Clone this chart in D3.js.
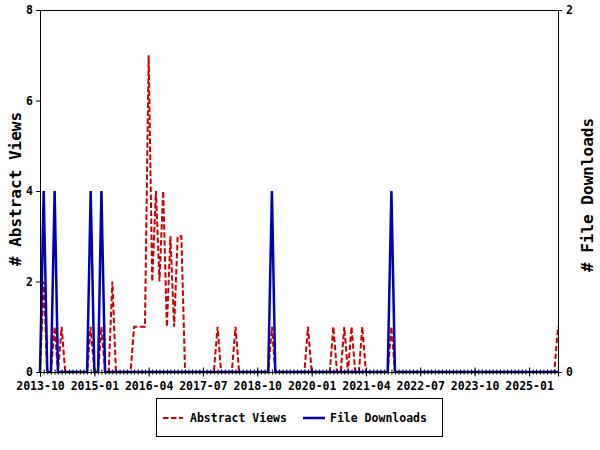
<!DOCTYPE html>
<html><head><meta charset="utf-8">
<script src="https://cdn.jsdelivr.net/npm/d3@7"></script>
<style>body{margin:0;background:#fff}svg{display:block}text{font-family:"DejaVu Sans Mono",monospace;font-weight:bold;fill:#000}</style>
</head><body><svg id="c" width="600" height="450"></svg>
<script>
// Monthly series, 2013-10 .. 2025-09
const startMonth = "2013-10";
const endMonth = "2025-09";
const abstractViews = [
  0,2,0,0,1,0,1,0,0,0,0,0,
  0,0,1,0,0,1,0,0,2,0,0,0,
  0,0,1,1,1,1,7,2,4,2,4,1,
  3,1,3,3,0,0,0,0,0,0,0,0,
  0,1,0,0,0,0,1,0,0,0,0,0,
  0,0,0,0,1,0,0,0,0,0,0,0,
  0,0,1,0,0,0,0,0,0,1,0,0,
  1,0,1,0,0,1,0,0,0,0,0,0,
  0,1,0,0,0,0,0,0,0,0,0,0,
  0,0,0,0,0,0,0,0,0,0,0,0,
  0,0,0,0,0,0,0,0,0,0,0,0,
  0,0,0,0,0,0,0,0,0,0,0,1
];
const fileDownloads = [
  0,1,0,0,1,0,0,0,0,0,0,0,
  0,0,1,0,0,1,0,0,0,0,0,0,
  0,0,0,0,0,0,0,0,0,0,0,0,
  0,0,0,0,0,0,0,0,0,0,0,0,
  0,0,0,0,0,0,0,0,0,0,0,0,
  0,0,0,0,1,0,0,0,0,0,0,0,
  0,0,0,0,0,0,0,0,0,0,0,0,
  0,0,0,0,0,0,0,0,0,0,0,0,
  0,1,0,0,0,0,0,0,0,0,0,0,
  0,0,0,0,0,0,0,0,0,0,0,0,
  0,0,0,0,0,0,0,0,0,0,0,0,
  0,0,0,0,0,0,0,0,0,0,0,0
];
const xTickLabels = ["2013-10","2015-01","2016-04","2017-07","2018-10","2020-01","2021-04","2022-07","2023-10","2025-01"];
const leftTicks = [0,2,4,6,8];
const rightTicks = [0,2];
const seriesNames = ["Abstract Views","File Downloads"];
const axisTitles = ["# Abstract Views","# File Downloads"];

const parse = d3.timeParse("%Y-%m");
const fmt = d3.timeFormat("%Y-%m");
const t0 = parse(startMonth), t1 = parse(endMonth);
const months = d3.timeMonth.range(t0, d3.timeMonth.offset(t1, 1));

const L = 40, R = 558, T = 10, B = 372;
const RED = "#cc0000", BLUE = "#0000b4";
const svg = d3.select("#c");
const x = d3.scaleTime().domain([t0, t1]).range([L, R]);
const yL = d3.scaleLinear().domain([0, 8]).range([B, T]);
const yR = d3.scaleLinear().domain([0, 2]).range([B, T]);

const viewsData = months.map((d, i) => ({date: d, v: abstractViews[i]}));
const dlData = months.map((d, i) => ({date: d, v: fileDownloads[i]}));

// frame
svg.append("rect").attr("x", L).attr("y", T).attr("width", R - L).attr("height", B - T)
  .attr("fill", "none").attr("stroke", "#000").attr("stroke-width", 1).attr("shape-rendering", "crispEdges");

svg.append("path").datum(viewsData)
  .attr("d", d3.line().x(d => x(d.date)).y(d => yL(d.v)))
  .attr("fill", "none").attr("stroke", RED).attr("stroke-width", 2).attr("stroke-dasharray", "5.5,2.5");
svg.append("path").datum(dlData)
  .attr("d", d3.line().x(d => x(d.date)).y(d => yR(d.v)))
  .attr("fill", "none").attr("stroke", BLUE).attr("stroke-width", 2.5);

// x axis: minor monthly ticks + major ticks
const xMinor = svg.append("g").attr("transform", `translate(0,${B})`)
  .call(d3.axisBottom(x).tickValues(months).tickSize(2.5).tickFormat(""));
xMinor.select(".domain").remove();
xMinor.selectAll(".tick line").attr("y1", -2.5).attr("stroke", "#000");
const xMajor = svg.append("g").attr("transform", `translate(0,${B})`)
  .call(d3.axisBottom(x).tickValues(xTickLabels.map(parse)).tickSize(4.5).tickPadding(6).tickFormat(fmt));
xMajor.select(".domain").attr("stroke", "#000");
xMajor.selectAll(".tick line").attr("y1", -4.5).attr("stroke", "#000");
xMajor.selectAll("text").style("font-size", "11.5px").attr("dy", "0.62em");

const yAx = svg.append("g").attr("transform", `translate(${L},0)`)
  .call(d3.axisLeft(yL).tickValues(leftTicks).tickSize(4).tickPadding(3).tickFormat(d3.format("d")));
yAx.selectAll("text").style("font-size", "11.5px");
const yAxR = svg.append("g").attr("transform", `translate(${R},0)`)
  .call(d3.axisRight(yR).tickValues(rightTicks).tickSize(4).tickPadding(4).tickFormat(d3.format("d")));
yAxR.selectAll("text").style("font-size", "11.5px");

svg.append("text").attr("transform", `translate(21,189) rotate(-90)`).attr("text-anchor", "middle")
  .style("font-size", "16px").text(axisTitles[0]);
svg.append("text").attr("transform", `translate(593,195) rotate(-90)`).attr("text-anchor", "middle")
  .style("font-size", "16px").text(axisTitles[1]);

// legend
const lg = svg.append("g");
lg.append("rect").attr("x", 156.5).attr("y", 398.5).attr("width", 286).attr("height", 38)
  .attr("fill", "#fff").attr("stroke", "#000");
lg.append("line").attr("x1", 163).attr("x2", 183).attr("y1", 418).attr("y2", 418)
  .attr("stroke", RED).attr("stroke-width", 2).attr("stroke-dasharray", "5.5,2.5");
lg.append("text").attr("x", 190).attr("y", 422).style("font-size", "11.5px").text(seriesNames[0]);
lg.append("line").attr("x1", 303).attr("x2", 325).attr("y1", 418).attr("y2", 418)
  .attr("stroke", BLUE).attr("stroke-width", 2.5);
lg.append("text").attr("x", 330).attr("y", 422).style("font-size", "11.5px").text(seriesNames[1]);
</script></body></html>
